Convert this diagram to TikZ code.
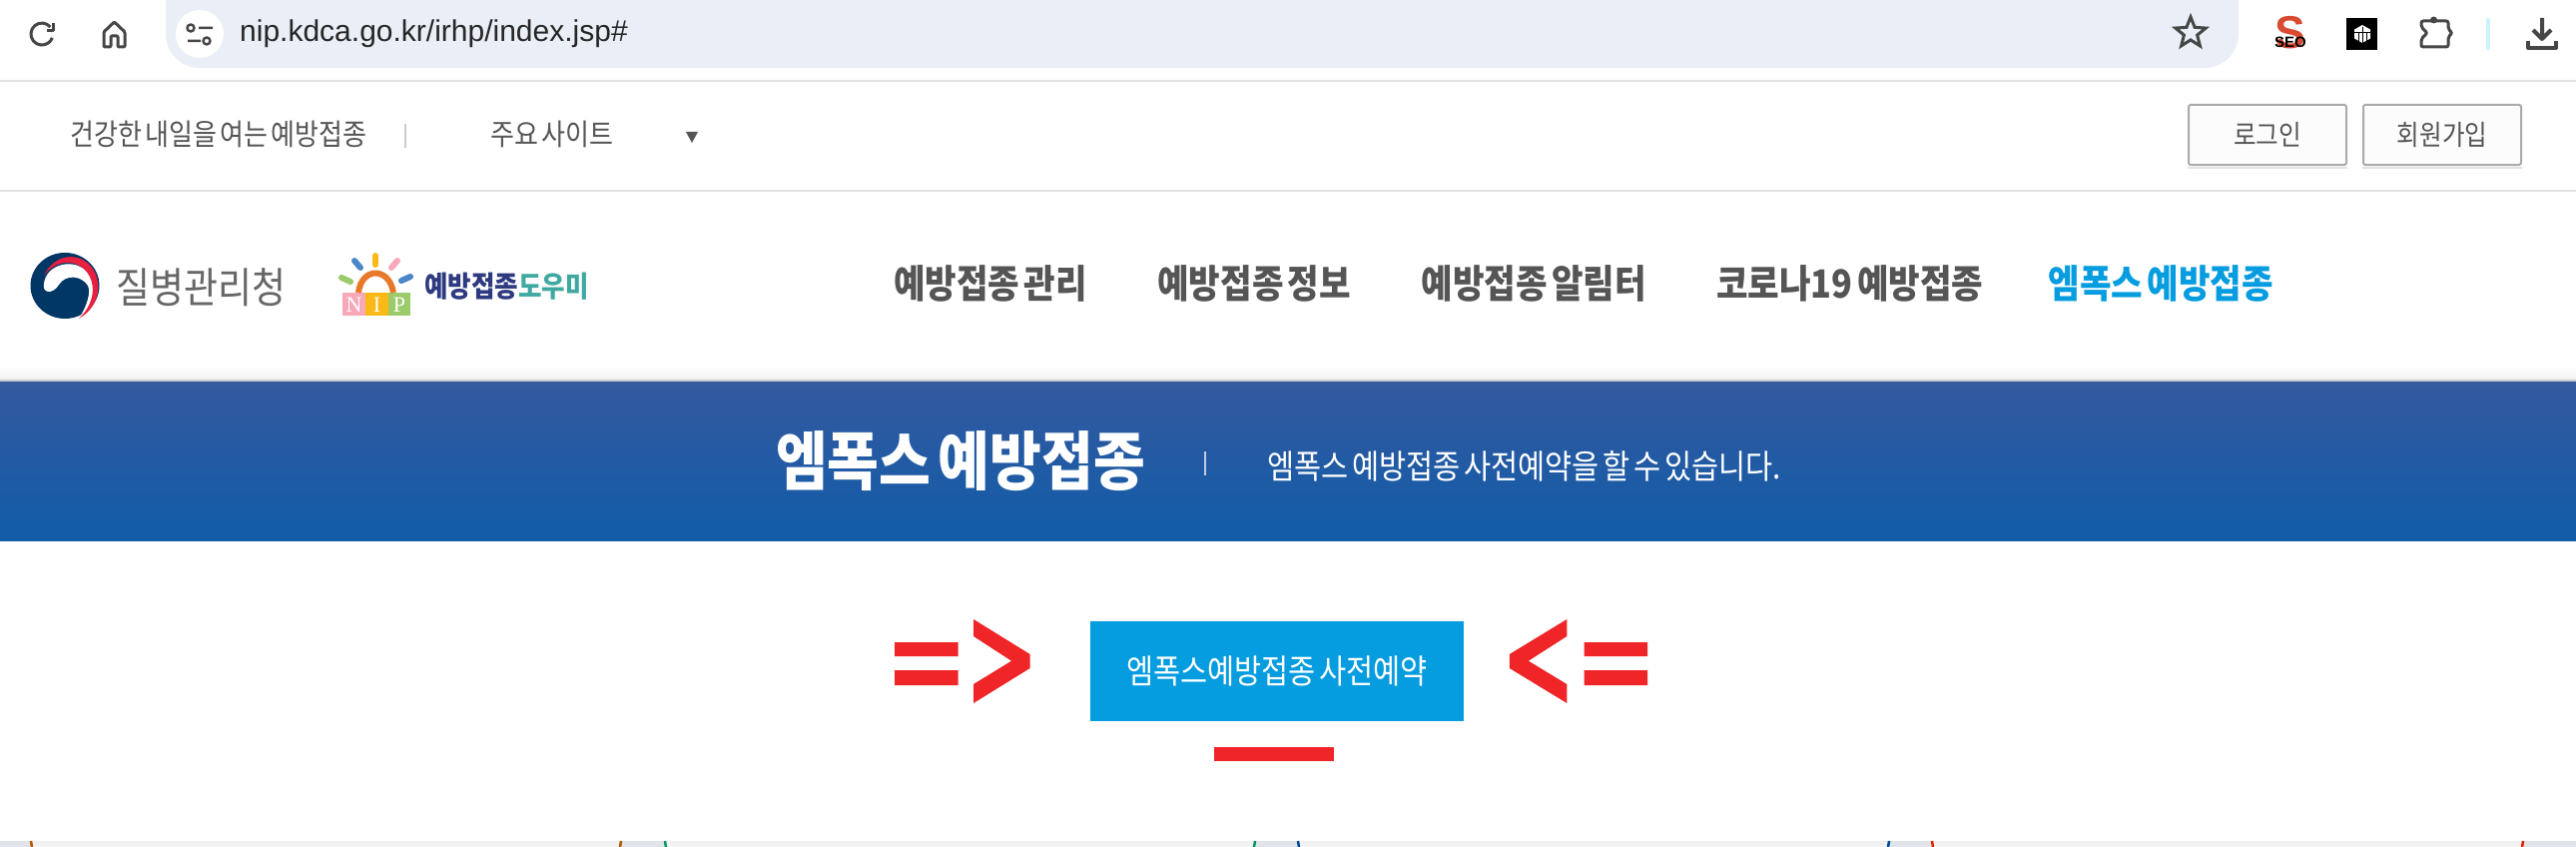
\documentclass[tikz,border=0pt]{standalone}
\usepackage{fontspec}
\setmainfont[FakeStretch=0.88,WordSpace=0.55]{Noto Sans CJK KR}
\newfontfamily\urlfont{Liberation Sans}
\newfontfamily\serifmark{Liberation Serif}
\usetikzlibrary{positioning,shapes.geometric}
\definecolor{barbg}{HTML}{EAEEF6}
\definecolor{rulegray}{HTML}{E2E2E2}
\definecolor{bandtop}{HTML}{34599F}
\definecolor{bandbot}{HTML}{115CA9}
\definecolor{skyblue}{HTML}{069CE0}
\definecolor{markred}{HTML}{F02527}
\definecolor{navgray}{HTML}{555555}
\definecolor{icongray}{HTML}{444746}
\definecolor{sealblue}{HTML}{003764}
\definecolor{sealred}{HTML}{E8203F}
\definecolor{gapgray}{HTML}{E0E4EA}
\definecolor{seored}{HTML}{D94A32}
\definecolor{nippink}{HTML}{F8A8B8}
\definecolor{nipyellow}{HTML}{FBB917}
\definecolor{nipgreen}{HTML}{9CCB6C}
\definecolor{niporange}{HTML}{E8782A}
\definecolor{nipblue}{HTML}{4A86C8}
\definecolor{helpernavy}{HTML}{2E3A80}
\definecolor{helperteal}{HTML}{3FA8A0}
\tikzset{
  toptext/.style={inner sep=0pt, text=navgray, font=\fontsize{29.6}{29.6}\selectfont},
  navitem/.style={inner sep=0pt, text=navgray, font=\fontsize{39}{39}\selectfont\bfseries},
  loginbtn/.style={draw=black!33, line width=2pt, rounded corners=2pt, fill=black!1, minimum width=158pt, minimum height=60pt, inner sep=0pt, text=navgray, font=\fontsize{28}{28}\selectfont},
  redmark/.style={fill=markred, draw=none},
  icon/.style={draw=icongray, line width=3pt, line join=round},
  ray/.style={line width=6pt, line cap=round},
  nipletter/.style={inner sep=0pt, text=white, font=\serifmark\fontsize{22}{22}\selectfont},
  cardedge/.style={line width=2.5pt}
}
\begin{document}
\begin{tikzpicture}[x=1pt,y=-1pt]
    \useasboundingbox (0,0) rectangle (2580,848);
    \fill[white] (0,0) rectangle (2580,848);
    % browser bar
    \fill[barbg, rounded corners=34pt] (166,-40) rectangle (2242,68);
    \fill[white] (200,34) circle (24);
    \node [inner sep=0pt, anchor=west, text=black!85, font=\urlfont\fontsize{30}{30}\selectfont] (url) at (240,34) {nip.kdca.go.kr/irhp/index.jsp\#};
    \draw[icon] (50.4,27) arc[start angle=-40, end angle=-340, radius=11];
    \draw[icon] (53,23) -- (53,31) -- (47,31);
    \draw[icon, rounded corners=1pt] (104,47) -- (104,32) -- (114.5,22) -- (125,32) -- (125,47) -- (118,47) -- (118,36) -- (111,36) -- (111,47) -- cycle;
    \draw[icon, line width=2.5pt] (191,28) circle (3.5) (199,28) -- (213,28) (188,41) -- (201,41) (207,41) circle (3.5);
    \node [star, star points=5, star point ratio=2.3, draw=icongray, line width=3pt, inner sep=0pt, minimum size=32pt] (favstar) at (2194,33) {};
    % extension icons
    \node [inner sep=0pt, text=seored, font=\urlfont\fontsize{46}{46}\selectfont\bfseries] (seoS) at (2294,33) {S};
    \node [inner sep=0pt, font=\urlfont\fontsize{15}{15}\selectfont\bfseries] (seoT) at (2294,42) {SEO};
    \fill[black] (2350,18) rectangle (2381,50);
    \fill[white] (2366,25) -- (2374,29.5) -- (2374,38.5) -- (2366,43) -- (2358,38.5) -- (2358,29.5) -- cycle;
    \draw[black, line width=1pt] (2358,33) -- (2374,33) (2362,33) -- (2362,42) (2366,27) -- (2366,44) (2370,33) -- (2370,42);
    \draw[icon, rounded corners=2pt] (2433,21) -- (2452,21) -- (2452,29) -- (2456,33) -- (2452,37) -- (2452,47) -- (2425,47) -- (2425,39) -- (2431,33) -- (2425,27) -- (2425,21) -- cycle;
    \fill[icongray] (2437.5,20) circle (3.5);
    \draw[draw=blue!25!cyan!20, line width=4pt, line cap=round] (2492,20) -- (2492,48);
    \draw[icon, line width=4pt] (2546,18) -- (2546,38) (2537,30) -- (2546,39) -- (2555,30);
    \draw[icon, line width=4pt] (2532,41) -- (2532,48) -- (2560,48) -- (2560,41);
    % top strip
    \draw[rulegray, line width=2pt] (0,81) -- (2580,81);
    \draw[rulegray, line width=2pt] (0,191) -- (2580,191);
    \node [toptext, anchor=west] (slogan) at (70,134) {건강한 내일을 여는 예방접종};
    \node [toptext, anchor=west] (sites) at (491,134) {주요 사이트};
    \fill[navgray] (687,132) -- (699,132) -- (693,143) -- cycle;
    \draw[black!20, line width=1.5pt] (406,124) -- (406,148);
    \node [loginbtn] (login) at (2271,135) {로그인};
    \node [loginbtn, right=15pt of login] (join) {회원가입};
    \draw[rulegray, line width=2pt] ([yshift=-2pt]login.south west) -- ([yshift=-2pt]login.south east);
    \draw[rulegray, line width=2pt] ([yshift=-2pt]join.south west) -- ([yshift=-2pt]join.south east);
    % seal
    \fill[sealblue] (65,286) ellipse (34.5 and 33);
    \fill[white] (44,284) .. controls (46,266) and (70,258) .. (85,270) .. controls (98,282) and (100,305) .. (79,319) .. controls (88,305) and (91,292) .. (88,286) .. controls (82,276) and (66,274) .. (59,285) .. controls (53,295) and (42,294) .. (44,284) -- cycle;
    \fill[sealred] (44,276) .. controls (52,258) and (72,252) .. (86,262) .. controls (103,274) and (104,305) .. (79,319) .. controls (94,305) and (98,284) .. (85,270) .. controls (72,258) and (54,262) .. (44,276) -- cycle;
    \node [inner sep=0pt, anchor=west, text=black!60, font=\fontsize{42}{42}\selectfont] (agency) at (116,288) {질병관리청};
    % nip logo
    \fill[nippink] (343,293) rectangle (366,316);
    \fill[nipyellow] (366,293) rectangle (389,316);
    \fill[nipgreen] (389,293) rectangle (411,316);
    \node [nipletter] (nipN) at (354.5,305) {N};
    \node [nipletter] (nipI) at (377.5,305) {I};
    \node [nipletter] (nipP) at (400,305) {P};
    \draw[niporange, line width=6pt] (359,293) .. controls (362,267) and (390,267) .. (394,293);
    \draw[ray, nipyellow] (376,256) -- (376,265);
    \draw[ray, nipblue] (355,261) -- (361,268);
    \draw[ray, nippink] (398,261) -- (392,268);
    \draw[ray, nipgreen] (342,278) -- (351,282);
    \draw[ray, nipblue] (411,277) -- (402,281);
    \node [inner sep=0pt, anchor=west, font=\fontsize{29}{29}\selectfont\bfseries] (helper) at (425,287) {\textcolor{helpernavy}{예방접종}\textcolor{helperteal}{도우미}};
    % nav
    \node [navitem] (nav1) at (992,284) {예방접종 관리};
    \node [navitem, right=70pt of nav1] (nav2) {예방접종 정보};
    \node [navitem, right=70pt of nav2] (nav3) {예방접종 알림터};
    \node [navitem, right=70pt of nav3] (nav4) {코로나19 예방접종};
    \node [navitem, text=skyblue, right=65pt of nav4] (nav5) {엠폭스 예방접종};
    % band
    \shade[top color=white, bottom color=black!5] (0,366) rectangle (2580,380);
    \fill[black!20] (0,380) rectangle (2580,382);
    \shade[top color=bandtop, bottom color=bandbot] (0,382) rectangle (2580,541);
    \node [inner sep=0pt, text=white, font=\fontsize{64}{64}\selectfont\bfseries] (title) at (962,462) {엠폭스 예방접종};
    \draw[white!70!bandtop, line width=1.5pt] (1207,452) -- (1207,476);
    \node [inner sep=0pt, anchor=west, text=white, font=\fontsize{33.5}{33.5}\selectfont] (subtitle) at (1269,467) {엠폭스 예방접종 사전예약을 할 수 있습니다.};
    % button and marks
    \node [fill=skyblue, text=white, minimum width=374pt, minimum height=100pt, inner sep=0pt, font=\fontsize{33.5}{33.5}\selectfont] (book) at (1279,672) {엠폭스예방접종 사전예약};
    \fill[redmark] (896,643) rectangle (959.5,657) (896,671) rectangle (959.5,686);
    \fill[redmark] (975,620) -- (1031.6,655) -- (1031.6,669) -- (975,704) -- (975,685) -- (1013,661.7) -- (975,637) -- cycle;
    \fill[redmark] (1586.6,643) rectangle (1650,657) (1586.6,671) rectangle (1650,686);
    \fill[redmark] (1569.3,620) -- (1511.8,655) -- (1511.8,669) -- (1569.3,704) -- (1569.3,685) -- (1530.8,661.7) -- (1569.3,637) -- cycle;
    \fill[redmark] (1216,748) rectangle (1336,762);
    % cards at the bottom
    \fill[gapgray] (0,842) rectangle (2580,848);
    \shade[top color=black!6, bottom color=black!4] (31,842) rectangle (622,848);
    \shade[top color=black!6, bottom color=black!4] (666,842) rectangle (1257,848);
    \shade[top color=black!6, bottom color=black!4] (1300,842) rectangle (1892,848);
    \shade[top color=black!6, bottom color=black!4] (1935,842) rectangle (2527,848);
    \draw[cardedge, orange!70!black] (31,842) -- (32,848) (622,842) -- (621,848);
    \draw[cardedge, teal!80!green] (666,842) -- (667,848) (1257,842) -- (1256,848);
    \draw[cardedge, blue!50!cyan!60!black] (1300,842) -- (1301,848) (1892,842) -- (1891,848);
    \draw[cardedge, red!70!orange!90!black] (1935,842) -- (1936,848) (2527,842) -- (2526,848);
\end{tikzpicture}
\end{document}
